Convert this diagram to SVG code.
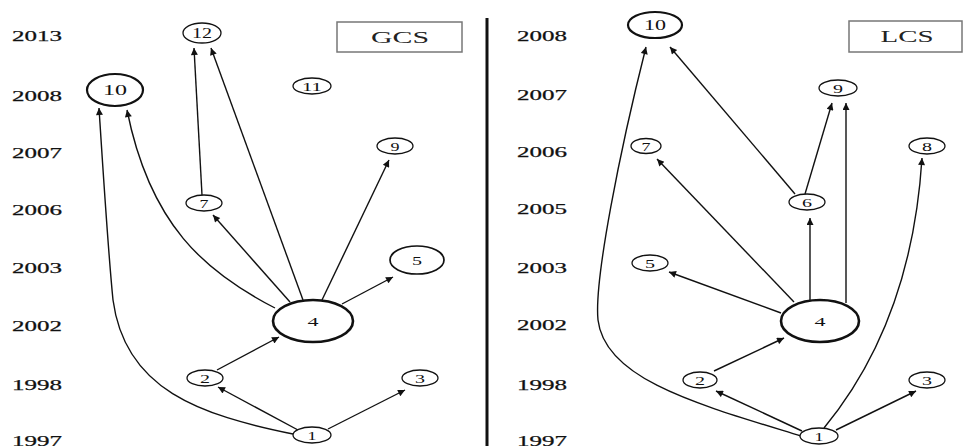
<svg xmlns="http://www.w3.org/2000/svg" width="964" height="446" viewBox="0 0 964 446">
<defs>
<style>
.yr{font-family:"Liberation Serif","Times New Roman",serif;font-size:15px;fill:#111;stroke:#111;stroke-width:0.25;text-anchor:start}
.nl{font-family:"Liberation Serif","Times New Roman",serif;font-size:13px;fill:#111;text-anchor:middle;dominant-baseline:central}
.n{fill:#fff;stroke:#111;stroke-width:1.3}
.nb{fill:#fff;stroke:#111;stroke-width:2.2}
.e{fill:none;stroke:#111;stroke-width:1.4;marker-end:url(#a)}
.box{fill:#fff;stroke:#777;stroke-width:1.5}
.bt{font-family:"Liberation Serif","Times New Roman",serif;font-size:16px;fill:#222;text-anchor:middle;dominant-baseline:central}
</style>
<marker id="a" viewBox="0 0 10 10" refX="10" refY="5" markerWidth="9" markerHeight="7" orient="auto" markerUnits="userSpaceOnUse"><path d="M0,0 L10,5 L0,10 z" fill="#111"/></marker>
</defs>
<rect width="964" height="446" fill="#fff"/>
<g id="years-left">
<text class="yr" x="12" y="41" textLength="50" lengthAdjust="spacingAndGlyphs">2013</text>
<text class="yr" x="12" y="101" textLength="50" lengthAdjust="spacingAndGlyphs">2008</text>
<text class="yr" x="12" y="158" textLength="50" lengthAdjust="spacingAndGlyphs">2007</text>
<text class="yr" x="12" y="215" textLength="50" lengthAdjust="spacingAndGlyphs">2006</text>
<text class="yr" x="12" y="273" textLength="50" lengthAdjust="spacingAndGlyphs">2003</text>
<text class="yr" x="12" y="331" textLength="50" lengthAdjust="spacingAndGlyphs">2002</text>
<text class="yr" x="12" y="390" textLength="50" lengthAdjust="spacingAndGlyphs">1998</text>
<text class="yr" x="12" y="446" textLength="50" lengthAdjust="spacingAndGlyphs">1997</text>
</g>
<g id="years-right">
<text class="yr" x="517" y="41" textLength="50" lengthAdjust="spacingAndGlyphs">2008</text>
<text class="yr" x="517" y="100" textLength="50" lengthAdjust="spacingAndGlyphs">2007</text>
<text class="yr" x="517" y="157" textLength="50" lengthAdjust="spacingAndGlyphs">2006</text>
<text class="yr" x="517" y="214" textLength="50" lengthAdjust="spacingAndGlyphs">2005</text>
<text class="yr" x="517" y="273" textLength="50" lengthAdjust="spacingAndGlyphs">2003</text>
<text class="yr" x="517" y="330" textLength="50" lengthAdjust="spacingAndGlyphs">2002</text>
<text class="yr" x="517" y="390" textLength="50" lengthAdjust="spacingAndGlyphs">1998</text>
<text class="yr" x="517" y="446" textLength="50" lengthAdjust="spacingAndGlyphs">1997</text>
</g>
<line id="divider" x1="487" y1="18" x2="487" y2="446" stroke="#111" stroke-width="3"/>
<g id="connectors">
<path class="e" d="M298,430 L218,387"/>
<path class="e" d="M328,429 L405,390"/>
<path class="e" d="M293,434 C200,415 125,390 113,300 C108,250 103,170 99,108"/>
<path class="e" d="M275,308 C205,272 150,225 127,110"/>
<path class="e" d="M290,302 L213,215"/>
<path class="e" d="M303,300 L211,48"/>
<path class="e" d="M202,195 L194,48"/>
<path class="e" d="M322,300 L389,160"/>
<path class="e" d="M342,304 L393,277"/>
<path class="e" d="M217,370 L279,337"/>
<path class="e" d="M802,431 L716,391"/>
<path class="e" d="M836,430 L916,391"/>
<path class="e" d="M801,436 C700,405 605,380 598,320 C594,280 620,150 646,47"/>
<path class="e" d="M795,194 L670,47"/>
<path class="e" d="M794,302 L657,159"/>
<path class="e" d="M781,313 L669,272"/>
<path class="e" d="M810,300 L810,218"/>
<path class="e" d="M846,303 L846,103"/>
<path class="e" d="M805,194 L832,103"/>
<path class="e" d="M824,428 C880,360 915,270 922,158"/>
<path class="e" d="M714,371 L784,338"/>
</g>
<g id="gcs-box"><rect class="box" x="337" y="22" width="125" height="30"/><text class="bt" x="400" y="37" textLength="58" lengthAdjust="spacingAndGlyphs">GCS</text></g>
<g id="lcs-box"><rect class="box" x="849" y="21" width="113" height="31"/><text class="bt" x="907" y="36" textLength="53" lengthAdjust="spacingAndGlyphs">LCS</text></g>
<g id="L12"><ellipse class="n" cx="202" cy="33" rx="19" ry="10"/><text class="nl" x="202" y="33" style="font-size:14px" textLength="20" lengthAdjust="spacingAndGlyphs">12</text></g>
<g id="L10"><ellipse class="nb" cx="115" cy="90" rx="28" ry="16"/><text class="nl" x="115" y="90" style="font-size:14px" textLength="24" lengthAdjust="spacingAndGlyphs">10</text></g>
<g id="L11"><ellipse class="n" cx="312" cy="86" rx="19" ry="8"/><text class="nl" x="312" y="86" textLength="20" lengthAdjust="spacingAndGlyphs">11</text></g>
<g id="L9"><ellipse class="n" cx="395" cy="146" rx="18" ry="8"/><text class="nl" x="395" y="146" textLength="9" lengthAdjust="spacingAndGlyphs">9</text></g>
<g id="L7"><ellipse class="n" cx="204" cy="203" rx="18" ry="8"/><text class="nl" x="204" y="203" textLength="9" lengthAdjust="spacingAndGlyphs">7</text></g>
<g id="L5"><ellipse class="nb" cx="417" cy="260" rx="27" ry="14" style="stroke-width:1.7"/><text class="nl" x="417" y="260" textLength="10" lengthAdjust="spacingAndGlyphs">5</text></g>
<g id="L4"><ellipse class="nb" cx="313" cy="321" rx="40" ry="21" style="stroke-width:2.6"/><text class="nl" x="313" y="321" textLength="11" lengthAdjust="spacingAndGlyphs">4</text></g>
<g id="L2"><ellipse class="n" cx="205" cy="378" rx="18" ry="8"/><text class="nl" x="205" y="378" textLength="10" lengthAdjust="spacingAndGlyphs">2</text></g>
<g id="L3"><ellipse class="n" cx="420" cy="378" rx="18" ry="8"/><text class="nl" x="420" y="378" textLength="10" lengthAdjust="spacingAndGlyphs">3</text></g>
<g id="L1"><ellipse class="n" cx="312" cy="435" rx="19" ry="8"/><text class="nl" x="312" y="435" textLength="9" lengthAdjust="spacingAndGlyphs">1</text></g>
<g id="R10"><ellipse class="nb" cx="655" cy="25" rx="27" ry="13"/><text class="nl" x="655" y="25" style="font-size:14px" textLength="22" lengthAdjust="spacingAndGlyphs">10</text></g>
<g id="R9"><ellipse class="n" cx="838" cy="88" rx="19" ry="8"/><text class="nl" x="838" y="88" textLength="10" lengthAdjust="spacingAndGlyphs">9</text></g>
<g id="R7"><ellipse class="n" cx="646" cy="146" rx="15" ry="7.5"/><text class="nl" x="646" y="146" textLength="9" lengthAdjust="spacingAndGlyphs">7</text></g>
<g id="R8"><ellipse class="n" cx="927" cy="146" rx="18" ry="8"/><text class="nl" x="927" y="146" textLength="10" lengthAdjust="spacingAndGlyphs">8</text></g>
<g id="R6"><ellipse class="n" cx="807" cy="202" rx="18" ry="8"/><text class="nl" x="807" y="202" textLength="10" lengthAdjust="spacingAndGlyphs">6</text></g>
<g id="R5"><ellipse class="n" cx="650" cy="263" rx="18" ry="8"/><text class="nl" x="650" y="263" textLength="10" lengthAdjust="spacingAndGlyphs">5</text></g>
<g id="R4"><ellipse class="nb" cx="820" cy="321" rx="39" ry="21" style="stroke-width:2.6"/><text class="nl" x="820" y="321" textLength="11" lengthAdjust="spacingAndGlyphs">4</text></g>
<g id="R2"><ellipse class="n" cx="700" cy="380" rx="17" ry="8"/><text class="nl" x="700" y="380" textLength="10" lengthAdjust="spacingAndGlyphs">2</text></g>
<g id="R3"><ellipse class="n" cx="927" cy="380" rx="18" ry="8"/><text class="nl" x="927" y="380" textLength="10" lengthAdjust="spacingAndGlyphs">3</text></g>
<g id="R1"><ellipse class="n" cx="819" cy="436" rx="19" ry="8"/><text class="nl" x="819" y="436" textLength="9" lengthAdjust="spacingAndGlyphs">1</text></g>
</svg>
